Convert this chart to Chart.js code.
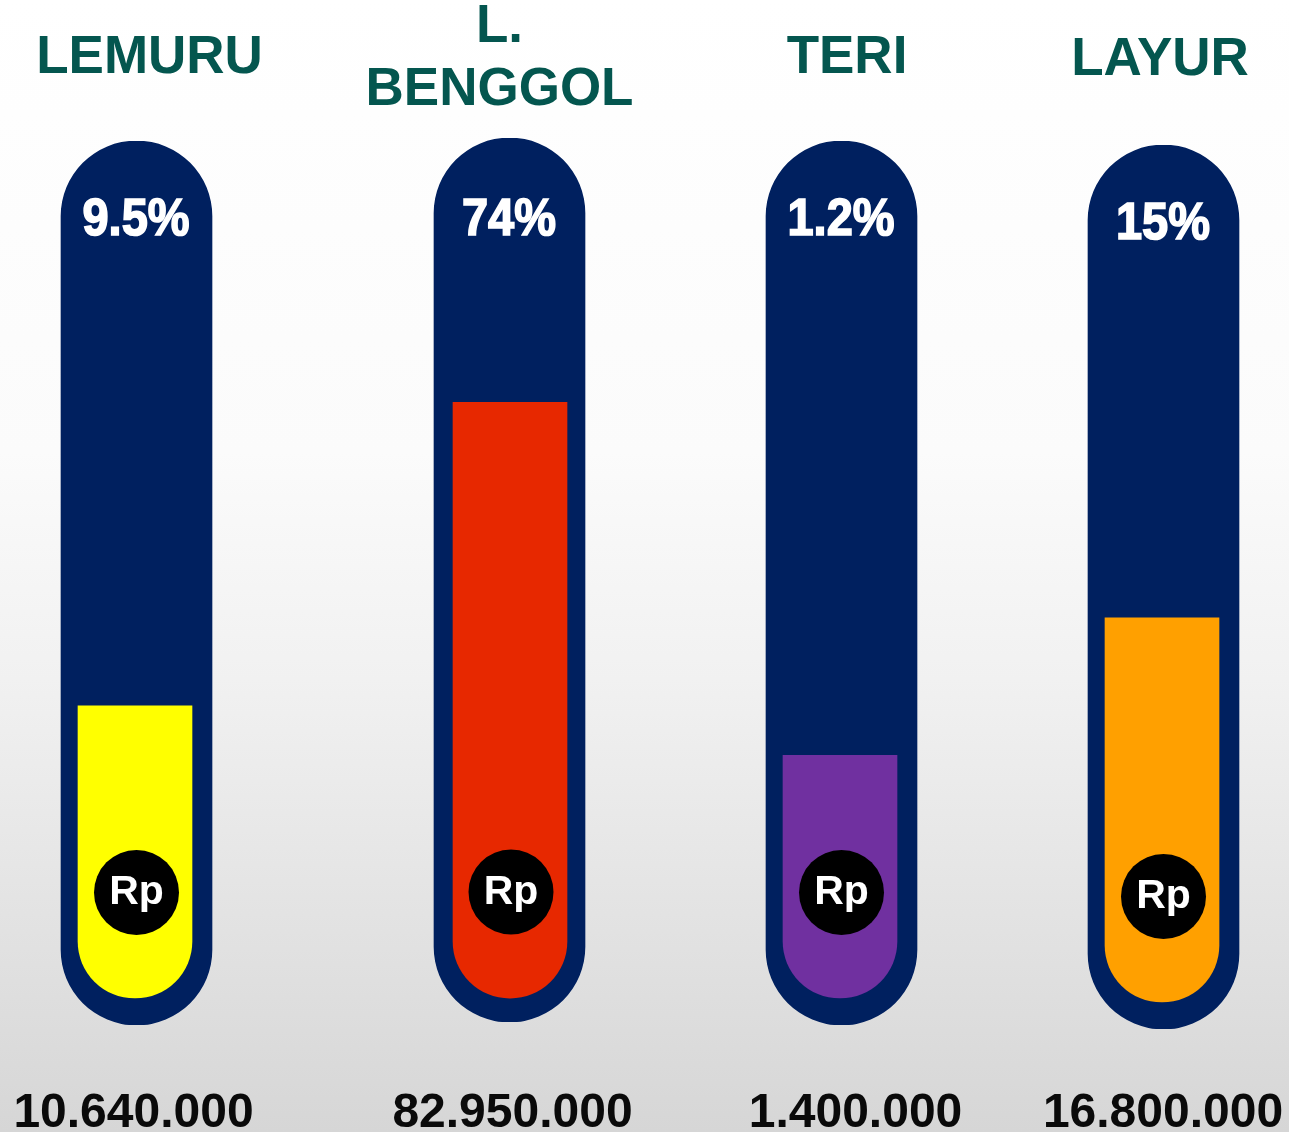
<!DOCTYPE html>
<html>
<head>
<meta charset="utf-8">
<title>Thermometers</title>
<script src="https://cdn.jsdelivr.net/npm/chart.js@4"></script>
<style>
  html, body { margin: 0; height: 100%; overflow: hidden; }
  body {
    width: 1289px; height: 1132px; position: relative;
    background: linear-gradient(#ffffff 0%, #fbfbfb 40%, #f1f1f1 60%, #d6d6d6 100%);
  }
  .tube { position: absolute; width: 361px; height: 1132px; }
</style>
</head>
<body>
<script>
const categories = [['LEMURU'], ['L.', 'BENGGOL'], ['TERI'], ['LAYUR']];
const percentLabels = ['9.5%', '74%', '1.2%', '15%'];
const rupiahLabels = ['10.640.000', '82.950.000', '1.400.000', '16.800.000'];
// height of the coloured column, as % of the tube it sits in
const fillLevels = [36.1, 70.1, 30.5, 46.5];
const fillFloors = [3.05, 2.7, 3.05, 3.05];
const badgeLevels = [15, 14.7, 15, 15];
const fillColors = ['#ffff00', '#e72800', '#7030a0', '#ffa000'];
const tubeLevel = 100;

// page placement of each chart and offsets of its texts from the tube centre
const canvasLeft = [-44, 329, 661, 983];
const tubeShift = [0, -3, 0, 4];
const fillNudge = [-1.5, 0.5, -1.5, -1.5];
const badgeNudge = [0, 1.5, 0, 0];
const titleOffset = [13, -10, 5.5, -3.5];
const titleBaseline = [73, 105, 73, 75];
const percentBaseline = [235, 235, 235, 239];
const valueOffset = [-3, 3, 14, -0.5];

const NAVY = '#00205f';
const FONT = '"Liberation Sans", Arial, sans-serif';

// the reference columns are not quite centred in their tubes
const nudgePlugin = {
  id: 'tubeNudge',
  afterDatasetsUpdate(chart) {
    const i = chart.options.plugins.tubeText.index;
    chart.getDatasetMeta(0).data[0].x += badgeNudge[i];
    chart.getDatasetMeta(1).data[0].x += fillNudge[i];
  }
};

const textPlugin = {
  id: 'tubeText',
  afterDraw(chart) {
    const i = chart.options.plugins.tubeText.index;
    const ctx = chart.ctx;
    const x = chart.scales.x.getPixelForValue(0);
    const y = chart.scales.y;
    ctx.save();
    ctx.textAlign = 'center';
    ctx.textBaseline = 'alphabetic';

    // title above the tube
    ctx.fillStyle = '#04564f';
    ctx.font = 'bold 53px ' + FONT;
    const lines = categories[i];
    lines.forEach((line, n) => {
      const back = (lines.length - 1 - n) * 63.5;
      ctx.fillText(line, x + titleOffset[i], titleBaseline[i] - tubeShift[i] - back);
    });

    // percentage at the top of the tube, a little taller than the font
    ctx.fillStyle = '#ffffff';
    ctx.strokeStyle = '#ffffff';
    ctx.lineWidth = 1.5;
    ctx.font = 'bold 47px ' + FONT;
    ctx.save();
    ctx.translate(x - 0.5, percentBaseline[i] - tubeShift[i]);
    ctx.scale(1, 1.1);
    ctx.strokeText(percentLabels[i], 0, 0);
    ctx.fillText(percentLabels[i], 0, 0);
    ctx.restore();

    // Rp on the badge
    ctx.font = 'bold 41px ' + FONT;
    ctx.fillText('Rp', x + badgeNudge[i], y.getPixelForValue(badgeLevels[i]) + 12);

    // rupiah value under the tube
    ctx.fillStyle = '#0a0a0a';
    ctx.font = 'bold 48px ' + FONT;
    ctx.fillText(rupiahLabels[i], x + valueOffset[i], 1127 - tubeShift[i]);
    ctx.restore();
  }
};

categories.forEach((name, i) => {
  const canvas = document.createElement('canvas');
  canvas.className = 'tube';
  canvas.width = 361;
  canvas.height = 1132;
  canvas.style.left = canvasLeft[i] + 'px';
  canvas.style.top = tubeShift[i] + 'px';
  document.body.appendChild(canvas);

  new Chart(canvas, {
    type: 'bar',
    data: {
      labels: [name.join(' ')],
      datasets: [
        {
          type: 'line',
          data: [badgeLevels[i]],
          showLine: false,
          pointRadius: 42.5,
          pointBackgroundColor: '#000000',
          pointBorderWidth: 0,
          order: 1
        },
        {
          data: [[fillFloors[i], fillLevels[i]]],
          backgroundColor: fillColors[i],
          barThickness: 114,
          grouped: false,
          borderSkipped: false,
          borderRadius: { topLeft: 0, topRight: 0, bottomLeft: 57, bottomRight: 57 },
          order: 2
        },
        {
          data: [tubeLevel],
          backgroundColor: NAVY,
          barThickness: 151,
          grouped: false,
          borderSkipped: false,
          borderRadius: 75.5,
          order: 3
        }
      ]
    },
    options: {
      responsive: false,
      animation: false,
      layout: { padding: { top: 141, bottom: 107 } },
      plugins: {
        legend: { display: false },
        tooltip: { enabled: false },
        tubeText: { index: i }
      },
      scales: {
        x: { display: false, grid: { display: false } },
        y: { display: false, min: 0, max: tubeLevel, grid: { display: false } }
      }
    },
    plugins: [nudgePlugin, textPlugin]
  });
});
</script>
</body>
</html>
